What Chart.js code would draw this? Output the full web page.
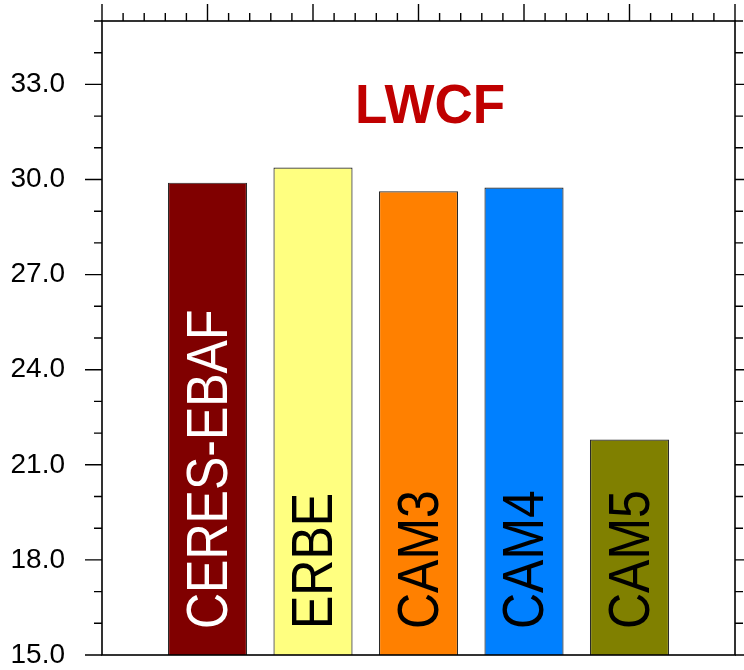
<!DOCTYPE html>
<html>
<head>
<meta charset="utf-8">
<script src="https://cdn.jsdelivr.net/npm/chart.js@4.4.0/dist/chart.umd.min.js"></script>
<style>
  html, body { margin: 0; padding: 0; background: #fff; }
  #wrap { width: 744px; height: 670px; }
</style>
</head>
<body>
<div id="wrap"><canvas id="chart" width="744" height="670"></canvas></div>
<script>
// data
const categories = ['CERES-EBAF', 'ERBE', 'CAM3', 'CAM4', 'CAM5'];
const positions = [1, 2, 3, 4, 5];
const lwcf = [29.9, 30.38, 29.63, 29.75, 21.8];
const barColors = ['#800000', '#ffff80', '#ff8000', '#0080ff', '#808000'];
const labelColors = ['#ffffff', '#000000', '#000000', '#000000', '#000000'];
const yMin = 15, yMax = 35;
const yLabelStep = 3;

const FONT = '"Liberation Sans", Arial, Helvetica, sans-serif';

// frame, tick marks, title and in-bar labels
const decorations = {
  id: 'decorations',
  afterDatasetsDraw(chart) {
    const ctx = chart.ctx;
    const a = chart.chartArea;
    const xs = chart.scales.x;
    const ys = chart.scales.y;

    ctx.save();
    ctx.strokeStyle = '#000';
    ctx.lineWidth = 1.6;
    ctx.strokeRect(a.left, a.top, a.right - a.left, a.bottom - a.top);

    // left / right ticks
    ctx.lineWidth = 1.4;
    ctx.beginPath();
    for (let v = yMin; v <= yMax; v++) {
      const y = ys.getPixelForValue(v);
      const len = (v - yMin) % yLabelStep === 0 ? 17 : 8;
      ctx.moveTo(a.left - len, y); ctx.lineTo(a.left, y);
      ctx.moveTo(a.right, y); ctx.lineTo(a.right + len, y);
    }
    // top ticks
    for (let i = 0; i <= 30; i++) {
      const v = i / 5;
      const x = xs.getPixelForValue(v);
      const len = i % 5 === 0 ? 17 : 8;
      ctx.moveTo(x, a.top - len); ctx.lineTo(x, a.top);
    }
    ctx.stroke();

    // title
    ctx.fillStyle = '#c00000';
    ctx.font = 'bold 53px ' + FONT;
    ctx.textAlign = 'center';
    ctx.textBaseline = 'alphabetic';
    ctx.save();
    ctx.translate(430, 123);
    ctx.scale(1, 1.05);
    ctx.fillText('LWCF', 0, 0);
    ctx.restore();

    // labels inside the bars
    const meta = chart.getDatasetMeta(0);
    ctx.font = '50px ' + FONT;
    ctx.textAlign = 'left';
    meta.data.forEach((bar, i) => {
      ctx.save();
      ctx.translate(bar.x + 19, a.bottom - 26);
      ctx.rotate(-Math.PI / 2);
      ctx.scale(1, 1.14);
      ctx.fillStyle = labelColors[i];
      ctx.fillText(categories[i], 0, 0);
      ctx.restore();
    });
    ctx.restore();
  }
};

new Chart(document.getElementById('chart'), {
  type: 'bar',
  data: {
    datasets: [{
      data: positions.map((p, i) => ({ x: p, y: lwcf[i] })),
      backgroundColor: barColors,
      borderColor: '#2a2a2a',
      borderWidth: 1.2,
      borderSkipped: false,
      categoryPercentage: 1,
      barPercentage: 0.75
    }]
  },
  options: {
    responsive: false,
    animation: false,
    layout: { padding: { left: 0, right: 9, top: 21, bottom: 15 } },
    plugins: {
      legend: { display: false },
      tooltip: { enabled: false }
    },
    scales: {
      x: {
        type: 'linear',
        min: 0,
        max: 6,
        offset: false,
        display: false
      },
      y: {
        min: yMin,
        max: yMax,
        grid: { display: false },
        border: { display: false },
        ticks: {
          stepSize: 1,
          autoSkip: false,
          padding: 29,
          color: '#000',
          font: { family: FONT, size: 28 },
          callback: (v) => ((v - yMin) % yLabelStep === 0 && v < yMax) ? v.toFixed(1) : ''
        },
        afterFit: (scale) => {
          scale.width = 102;
          scale.paddingTop = 0;
          scale.paddingBottom = 0;
        }
      }
    }
  },
  plugins: [decorations]
});
</script>
</body>
</html>
